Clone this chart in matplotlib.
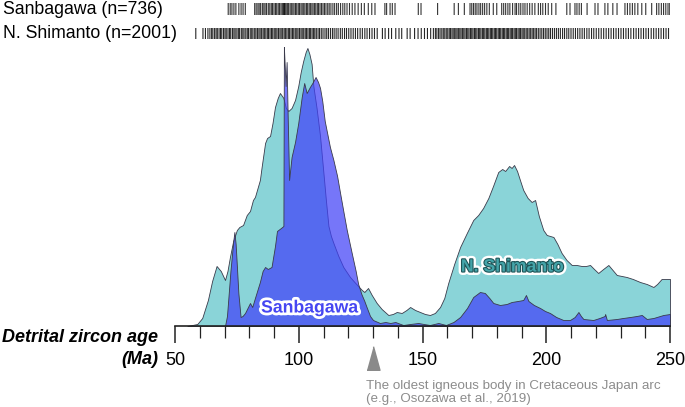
import matplotlib
matplotlib.use("Agg")
import matplotlib.pyplot as plt
import matplotlib.patheffects as pe
from matplotlib.ticker import MultipleLocator

plt.rcParams['font.family'] = ['Liberation Sans', 'DejaVu Sans']

# Density curves (age in Ma, relative height)
shimanto_age = [55, 57, 59, 61, 63.3, 65, 66.8, 68.5, 70.2, 71.2, 72.2, 73.5, 75, 76, 77.5, 79,
                80.3, 81.5, 82.3, 84.3, 85, 86.4, 87.2, 88.4, 89.4, 90.4, 91.5, 92.4, 93.8, 94.8,
                95.8, 97.1, 98.5, 99.8, 100.8, 101.8, 102.8, 103.5, 104.3, 105.2, 105.9, 107.2,
                108.6, 109.9, 111, 112, 113, 114, 116, 118, 120.7, 122.5, 124, 125.5, 126.5, 128,
                129.5, 131.5, 133.5, 136.2, 138, 139.6, 141.6, 143.5, 145, 147, 149, 151, 153, 155,
                157.1, 158.8, 160.4, 162.8, 165.2, 167.9, 170.5, 172.5, 174.5, 176.6, 178.5, 180.6,
                182.2, 183.4, 185, 186, 187, 188.2, 189.5, 190.7, 192.5, 194.1, 195.5, 197, 198.8,
                200.2, 202.9, 204.5, 206.2, 208.2, 210.3, 212.3, 214.3, 216, 217.7, 219.3, 221, 223,
                225.1, 226.8, 228.5, 230.5, 232.5, 235, 237.9, 240.6, 243.3, 244.8, 246.6, 250]
shimanto_dens = [0, 1, 2, 8, 26, 45, 60, 55, 46, 55, 69, 85, 96, 99, 101, 111,
                 115, 126, 129, 146, 159, 183, 188, 190, 203, 219, 228, 233, 228, 218,
                 215, 218, 226, 240, 254, 265, 274, 278, 272, 262, 240, 218,
                 190, 155, 125, 100, 90, 83, 70, 59, 49, 44, 40, 36, 34, 38,
                 31, 23, 17, 11, 12, 14, 13, 16, 19, 16, 14, 12, 11, 13,
                 19, 28, 43, 62, 79, 93, 106, 111, 118, 128, 140, 154,
                 157, 155, 160, 158, 161, 155, 145, 136, 128, 124, 126, 110, 96,
                 91, 89, 82, 73, 66, 61, 61, 60, 60, 61, 57, 53, 57,
                 61, 56, 51, 50, 49, 47, 44, 42, 39, 42, 47, 47]

sanbagawa_age = [70.2, 71.0, 71.5, 72.4, 73.2, 73.7, 74.0, 74.5, 75.0, 75.6, 76.5, 77.3, 78.3,
                 79.3, 80.3, 81.2, 82.3, 83.3, 84.3, 85.4, 86.4, 87.5, 89, 90.4, 91.2, 92.8,
                 93.8, 94.0, 94.3, 94.7, 95.1, 95.5, 96.1, 97.1, 98.5, 99.8, 101.2, 102.2,
                 103.2, 104.5, 105.5, 106.8, 107.8, 108.6, 109.5, 110.5, 112.6, 114, 115.5,
                 116.7, 118, 119.4, 121.4, 123, 124, 125.3, 126.5, 127.4, 128.8, 130, 132.8,
                 135, 137, 139, 142.2, 145, 148.3, 150.5, 153, 156.4, 159.5, 162.5, 165.2, 168,
                 170.5, 173.2, 175.2, 177, 178.6, 181.3, 184, 186, 188.5, 190.7, 191.8, 192.8,
                 195, 197.5, 199.5, 201.5, 204, 206.9, 209.6, 211.5, 213, 214, 215, 219, 221.5,
                 223.6, 223.8, 224.5, 228.5, 231, 233.9, 236.5, 238.6, 240.6, 243.3, 247.3, 250]
sanbagawa_dens = [0, 10, 26, 55, 76, 88, 94, 82, 60, 33, 9, 10, 13,
                  18, 23, 19, 28, 36, 44, 55, 59, 57, 59, 80, 95, 98,
                  100, 279, 262, 240, 264, 213, 146, 169, 184, 203, 229, 243,
                  233, 239, 243, 249, 244, 238, 225, 205, 179, 166, 150,
                  133, 115, 96, 73, 55, 42, 32, 25, 19, 10, 6, 3,
                  4, 3, 4, 1, 2, 3, 2, 1, 3, 1, 4, 9, 18,
                  29, 34, 33, 28, 23, 21, 22, 24, 25, 26, 31, 25,
                  21, 18, 15, 13, 9, 6, 6, 9, 14, 10, 7, 6, 8,
                  10, 12, 6, 7, 8, 9, 10, 11, 7, 8, 11, 12]

# Individual ages in the barcode strips (approximate)
sanbagawa_rug = [71.5, 72.3, 73.0, 73.8, 74.6, 75.8, 76.7, 77.5, 78.4,
                 82.2, 82.8, 83.5, 84.0, 84.6, 85.3, 85.9, 86.4, 87.0, 87.7, 88.3, 88.9, 89.4,
                 90.0, 90.6, 91.1, 91.7, 92.2, 92.8, 93.3, 93.7, 94.0, 94.2, 94.5, 94.9, 95.4,
                 95.9, 96.5, 97.0, 97.6, 98.1, 98.7, 99.2, 99.8, 100.3, 100.9, 101.4, 102.0,
                 102.5, 103.1, 103.6, 104.2, 104.7, 105.3, 105.8, 106.4, 106.9, 107.5, 108.0,
                 108.6, 109.2, 109.8, 110.4, 111.0, 111.7, 112.3, 113.0, 113.8, 114.5, 115.3,
                 116.0, 116.9, 117.8, 118.6, 119.5, 120.5, 121.6, 122.7, 124.0, 125.3, 126.5,
                 128.1, 129.5, 130.8, 134.8, 135.5, 136.9, 137.8, 138.9, 148.3, 149.4, 156.1,
                 162.8, 164.5, 166.9, 169.2, 169.9, 170.6, 171.3, 172.0, 172.8, 173.5, 174.3,
                 175.1, 176.0, 177.0, 178.6, 180.0, 182.0, 182.8, 183.6, 184.5, 185.3, 186.4,
                 187.4, 188.0, 188.9, 189.7, 190.6, 191.4, 192.3, 193.3, 194.3, 195.4, 196.8,
                 197.7, 198.6, 199.7, 200.8, 202.2, 203.9, 208.3, 209.6, 211.6, 212.4, 213.3,
                 214.2, 216.5, 219.7, 220.9, 223.7, 224.9, 226.9, 228.6, 231.8, 232.8, 233.8,
                 234.8, 235.8, 237.0, 238.6, 240.2, 242.6, 244.6, 245.5, 246.5, 247.4, 248.3,
                 249.2, 249.9]
shimanto_rug = [58.4, 61.3, 62.3, 63.3,
                64.1, 64.8, 65.3, 66.0, 66.6, 67.1, 67.8, 68.4, 68.9, 69.6, 70.2, 70.7, 71.4,
                72.0, 72.5, 73.2, 73.8, 74.3, 75.0, 75.6, 76.1, 76.8, 77.4, 77.9, 78.6, 79.2,
                79.7, 80.4, 81.0, 81.5, 82.2, 82.7, 83.3, 83.9, 84.4, 85.0, 85.6, 86.1, 86.7,
                87.3, 87.8, 88.4, 89.0, 89.5, 90.1, 90.7, 91.2, 91.8, 92.4, 92.9, 93.5, 94.1,
                94.6, 95.2, 95.8, 96.3, 96.9, 97.5, 98.0, 98.6, 99.2, 99.7, 100.3, 100.9, 101.4,
                102.0, 102.6, 103.1, 103.7, 104.3, 104.8, 105.4, 106.0, 106.5, 107.1, 107.8,
                108.4, 109.1, 109.8, 110.6, 111.3, 112.0, 112.8, 113.6, 114.3, 115.1, 115.9,
                116.8, 117.6, 118.5, 119.3, 120.2, 121.1, 122.0, 122.9, 123.8, 124.8, 125.7,
                126.7, 127.6, 128.6, 129.6, 130.6, 131.7,
                133.8, 134.9, 136.3, 137.5, 139.2, 140.5, 141.6, 143.8, 145.0, 146.8, 148.2,
                149.5, 150.8, 152.0, 153.3, 154.4,
                155.2, 155.8, 156.5, 157.1, 157.8, 158.4, 159.0, 159.6, 160.2, 160.8, 161.3,
                161.9, 162.4, 163.0, 163.5, 164.0, 164.6, 165.1, 165.6, 166.2, 166.7, 167.2,
                167.8, 168.3, 168.8, 169.4, 169.9, 170.4, 171.0, 171.5, 172.0, 172.6, 173.1,
                173.6, 174.2, 174.7, 175.2, 175.8, 176.3, 176.8, 177.4, 177.9, 178.4, 179.0,
                179.5, 180.0, 180.6, 181.1, 181.6, 182.2, 182.7, 183.2, 183.8, 184.3, 184.8,
                185.4, 185.9, 186.4, 187.0, 187.5, 188.0, 188.6, 189.1, 189.6, 190.2, 190.7,
                191.3, 191.9, 192.5, 193.1, 193.7, 194.3, 194.9, 195.5, 196.1, 196.8, 197.5,
                198.2, 198.9, 199.6, 200.3, 201.0, 201.7, 202.5, 203.3, 204.1, 204.9, 205.7,
                206.6, 207.4, 208.3, 209.1, 210.0, 210.9, 211.8, 212.7, 213.6, 214.5, 215.4,
                216.4, 217.3, 218.3, 219.2, 220.2, 221.2, 222.2, 223.2, 224.2, 225.2, 226.2,
                227.2, 228.2, 229.2, 230.2, 231.2, 232.2, 233.2, 234.2, 235.3, 236.3, 237.3,
                238.3, 239.3, 240.3, 241.3, 242.4, 243.4, 244.4, 245.4, 246.4, 247.4, 248.4,
                249.4]

ARC_AGE = 130  # oldest igneous body marker

TEAL = '#8ad4d8'
BLUE = (65 / 255, 65 / 255, 248 / 255, 0.72)
EDGE = '#3a3a4a'

fig = plt.figure(figsize=(6.85, 4.07), dpi=100)
ax = fig.add_axes([175 / 685, 81 / 407, 495 / 685, 326 / 407])

ax.fill_between(shimanto_age, shimanto_dens, facecolor=TEAL, edgecolor=EDGE, lw=0.6)
ax.fill_between(sanbagawa_age, sanbagawa_dens, facecolor=BLUE, edgecolor=EDGE, lw=0.6)

# barcode strips on top
ax.vlines(sanbagawa_rug, 311, 323, colors='black', lw=0.8, alpha=0.8, snap=False)
ax.vlines(shimanto_rug, 287, 298, colors='black', lw=0.8, alpha=0.85, snap=False)

ax.text(104.5, 18, 'Sanbagawa', color='#4646f2', fontsize=12.7, fontweight='bold',
        ha='center', va='center',
        path_effects=[pe.Stroke(linewidth=4, foreground='white'), pe.Normal()])
ax.text(186.4, 59, 'N. Shimanto', color='#44a4a9', fontsize=12.7, fontweight='bold',
        ha='center', va='center',
        path_effects=[pe.Stroke(linewidth=5, foreground='white'),
                      pe.Stroke(linewidth=1.6, foreground='#1f5558'), pe.Normal()])

ax.set_xlim(50, 250)
ax.set_ylim(0, 326)
for s in ['left', 'right', 'top']:
    ax.spines[s].set_visible(False)
ax.spines['bottom'].set_color('#222222')
ax.spines['bottom'].set_linewidth(1.2)
ax.set_yticks([])
ax.xaxis.set_major_locator(MultipleLocator(50))
ax.xaxis.set_minor_locator(MultipleLocator(10))
ax.tick_params(axis='x', which='major', length=12, width=1.1, color='#222222',
               labelsize=13, pad=7)
ax.tick_params(axis='x', which='minor', length=8.5, width=0.9, color='#222222')

# arc marker and note
ax.plot([ARC_AGE], [-32], marker=[(-0.55, -1), (0.55, -1), (0, 1)], markersize=17,
        color='#8a8a8a', clip_on=False, lw=0)
ax.text(ARC_AGE - 2.7, -54, 'The oldest igneous body in Cretaceous Japan arc\n'
        '(e.g., Osozawa et al., 2019)', color='#8c8c8c', fontsize=9.6,
        ha='left', va='top', linespacing=1.15, clip_on=False)

fig.text(158 / 685, 1 - 337 / 407, 'Detrital zircon age', fontsize=13,
         fontweight='bold', fontstyle='italic', ha='right', va='center')
fig.text(158 / 685, 1 - 360 / 407, '(Ma)', fontsize=13,
         fontweight='bold', fontstyle='italic', ha='right', va='center')

fig.text(3 / 685, 1 - 10 / 407, 'Sanbagawa (n=736)', fontsize=12.7, va='center')
fig.text(3 / 685, 1 - 34 / 407, 'N. Shimanto (n=2001)', fontsize=12.7, va='center')

fig.savefig('out.png', dpi=100)
